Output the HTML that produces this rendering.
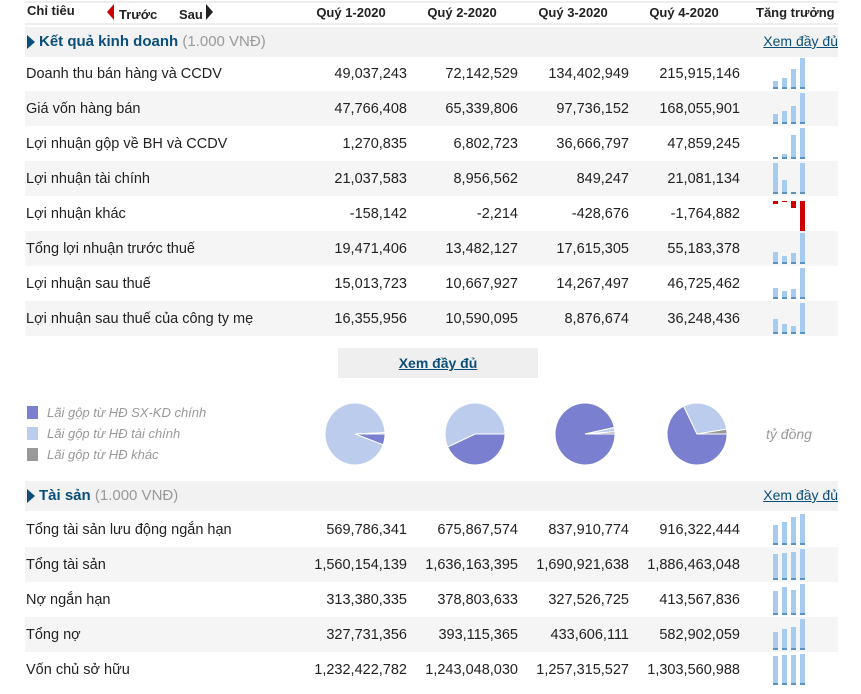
<!DOCTYPE html>
<html><head><meta charset="utf-8">
<style>
body{margin:0;width:861px;height:694px;background:#fff;font-family:"Liberation Sans",Arial,sans-serif;position:relative;overflow:hidden;color:#222}
.abs{position:absolute}
.hdr{font-weight:bold;font-size:13px;color:#222}
.sec{position:absolute;left:25px;width:813px;height:30px;background:#f2f2f2}
.sec .t{position:absolute;left:14px;top:6px;font-size:15px;font-weight:bold;color:#0a4f7a}
.sec .t span{font-weight:normal;color:#999}
.sec .tri{position:absolute;left:2px;top:8px;width:0;height:0;border-top:7px solid transparent;border-bottom:7px solid transparent;border-left:8px solid #0a4f7a}
.sec .more{position:absolute;right:0;top:6px;font-size:14px;color:#0a4f7a;text-decoration:underline}
.row{position:absolute;left:25px;width:813px;height:35px;font-size:14.5px}
.row.g{background:#f5f5f5}
.row .lb{position:absolute;left:1px;top:10px}
.row .v{position:absolute;top:10px;text-align:right;width:110px}
.legend{font-size:13px;font-style:italic;color:#999}
.sw{display:inline-block;width:11px;height:13px;vertical-align:-2px;margin-right:9px}
</style></head><body>
<div class="abs" style="left:25px;top:1px;width:813px;height:2px;background:#eee"></div>
<div class="abs" style="left:25px;top:23px;width:813px;height:2px;background:#eee"></div>
<div class="abs hdr" style="left:27px;top:3px">Chỉ tiêu</div>
<div class="abs" style="left:107px;top:4px;width:0;height:0;border-top:8px solid transparent;border-bottom:8px solid transparent;border-right:7px solid #c00"></div>
<div class="abs hdr" style="left:119px;top:7px">Trước</div>
<div class="abs hdr" style="left:179px;top:7px">Sau</div>
<div class="abs" style="left:206px;top:4px;width:0;height:0;border-top:8px solid transparent;border-bottom:8px solid transparent;border-left:7px solid #222"></div>
<div class="abs hdr" style="left:296px;top:5px;width:110px;text-align:center">Quý 1-2020</div>
<div class="abs hdr" style="left:407px;top:5px;width:110px;text-align:center">Quý 2-2020</div>
<div class="abs hdr" style="left:518px;top:5px;width:110px;text-align:center">Quý 3-2020</div>
<div class="abs hdr" style="left:629px;top:5px;width:110px;text-align:center">Quý 4-2020</div>
<div class="abs hdr" style="left:756px;top:5px;white-space:nowrap">Tăng trưởng</div>

<div class="sec" style="top:27px"><div class="tri"></div><div class="t">Kết quả kinh doanh <span>(1.000 VNĐ)</span></div><div class="more">Xem đầy đủ</div></div>
<div class="sec" style="top:481px"><div class="tri"></div><div class="t">Tài sản <span>(1.000 VNĐ)</span></div><div class="more">Xem đầy đủ</div></div>

<div class="abs" style="left:338px;top:348px;width:200px;height:30px;background:#efefef;text-align:center;line-height:30px;font-size:14px;font-weight:bold;color:#0a4f7a;text-decoration:underline">Xem đầy đủ</div>

<div class="abs legend" style="left:27px;top:402px;line-height:21px">
<div><span class="sw" style="background:#7b7fcf"></span>Lãi gộp từ HĐ SX-KD chính</div>
<div><span class="sw" style="background:#bcccec"></span>Lãi gộp từ HĐ tài chính</div>
<div><span class="sw" style="background:#999"></span>Lãi gộp từ HĐ khác</div>
</div>
<div class="abs legend" style="left:766px;top:426px;font-size:14px">tỷ đồng</div>
<svg id="pies" class="abs" style="left:0;top:0" width="861" height="694"></svg>
<div id="rows"></div>
<script>
const labels1=["Doanh thu bán hàng và CCDV","Giá vốn hàng bán","Lợi nhuận gộp về BH và CCDV","Lợi nhuận tài chính","Lợi nhuận khác","Tổng lợi nhuận trước thuế","Lợi nhuận sau thuế","Lợi nhuận sau thuế của công ty mẹ"];
const values1=[[49037243,72142529,134402949,215915146],[47766408,65339806,97736152,168055901],[1270835,6802723,36666797,47859245],[21037583,8956562,849247,21081134],[-158142,-2214,-428676,-1764882],[19471406,13482127,17615305,55183378],[15013723,10667927,14267497,46725462],[16355956,10590095,8876674,36248436]];
const labels2=["Tổng tài sản lưu động ngắn hạn","Tổng tài sản","Nợ ngắn hạn","Tổng nợ","Vốn chủ sở hữu"];
const values2=[[569786341,675867574,837910774,916322444],[1560154139,1636163395,1690921638,1886463048],[313380335,378803633,327526725,413567836],[327731356,393115365,433606111,582902059],[1232422782,1243048030,1257315527,1303560988]];
const pieSxkd=[1270835,6802723,36666797,47859245];
const pieTaiChinh=[21037583,8956562,849247,21081134];
const pieKhac=[158142,2214,428676,1764882];
const pieColors=["#7b7fcf","#bcccec","#999999"];
const root=document.getElementById('rows');
const fmt=n=>n.toLocaleString('en-US');
function buildRows(labels,vals,top,prefix){
  labels.forEach((lb,i)=>{
    const r=document.createElement('div');
    r.className='row'+(i%2?' g':'');
    r.style.top=(top+i*35)+'px';
    
    
    const l=document.createElement('div');l.className='lb';l.textContent=lb;
    
    
    r.appendChild(l);
    const mx=Math.max(...vals[i].map(Math.abs));
    const neg=vals[i].every(v=>v<=0);
    vals[i].forEach((v,j)=>{
      const c=document.createElement('div');c.className='v';c.style.left=(272+j*111)+'px';c.textContent=fmt(v);
      
      
      r.appendChild(c);
      const h=Math.max(1,Math.abs(v)/mx*30);
      const b=document.createElement('div');
      
      
      b.style.position='absolute';b.style.left=(748+j*9)+'px';b.style.width='5px';b.style.height=h+'px';
      if(neg){b.style.top='5px';b.style.background='#cc0000';}
      else{b.style.background='#a5cbef';b.style.borderBottom='2px solid #5b93c0';b.style.height=(h-1)+'px';b.style.top=(32-h)+'px';}
      r.appendChild(b);
    });
    root.appendChild(r);
  });
}
buildRows(labels1,values1,56,'kqkd');
buildRows(labels2,values2,512,'ts');
const svg=document.getElementById('pies');
const cx=[355,475,585,697],cy=434,rx=30,ry=31;
for(let q=0;q<4;q++){
  const vs=[pieSxkd[q],pieTaiChinh[q],pieKhac[q]];
  const tot=vs.reduce((a,b)=>a+b,0);
  let a0=0;
  vs.forEach((v,k)=>{
    const a1=a0+v/tot*2*Math.PI;
    const x0=cx[q]+rx*Math.cos(a0),y0=cy+ry*Math.sin(a0),x1=cx[q]+rx*Math.cos(a1),y1=cy+ry*Math.sin(a1);
    const p=document.createElementNS('http://www.w3.org/2000/svg','path');
    p.setAttribute('d',`M${cx[q]},${cy} L${x0},${y0} A${rx},${ry} 0 ${a1-a0>Math.PI?1:0} 1 ${x1},${y1} Z`);
    p.setAttribute('fill',pieColors[k]);p.setAttribute('stroke','#fff');p.setAttribute('stroke-width','1');
    
    
    svg.appendChild(p);
    a0=a1;
  });
}
</script>
</body></html>
